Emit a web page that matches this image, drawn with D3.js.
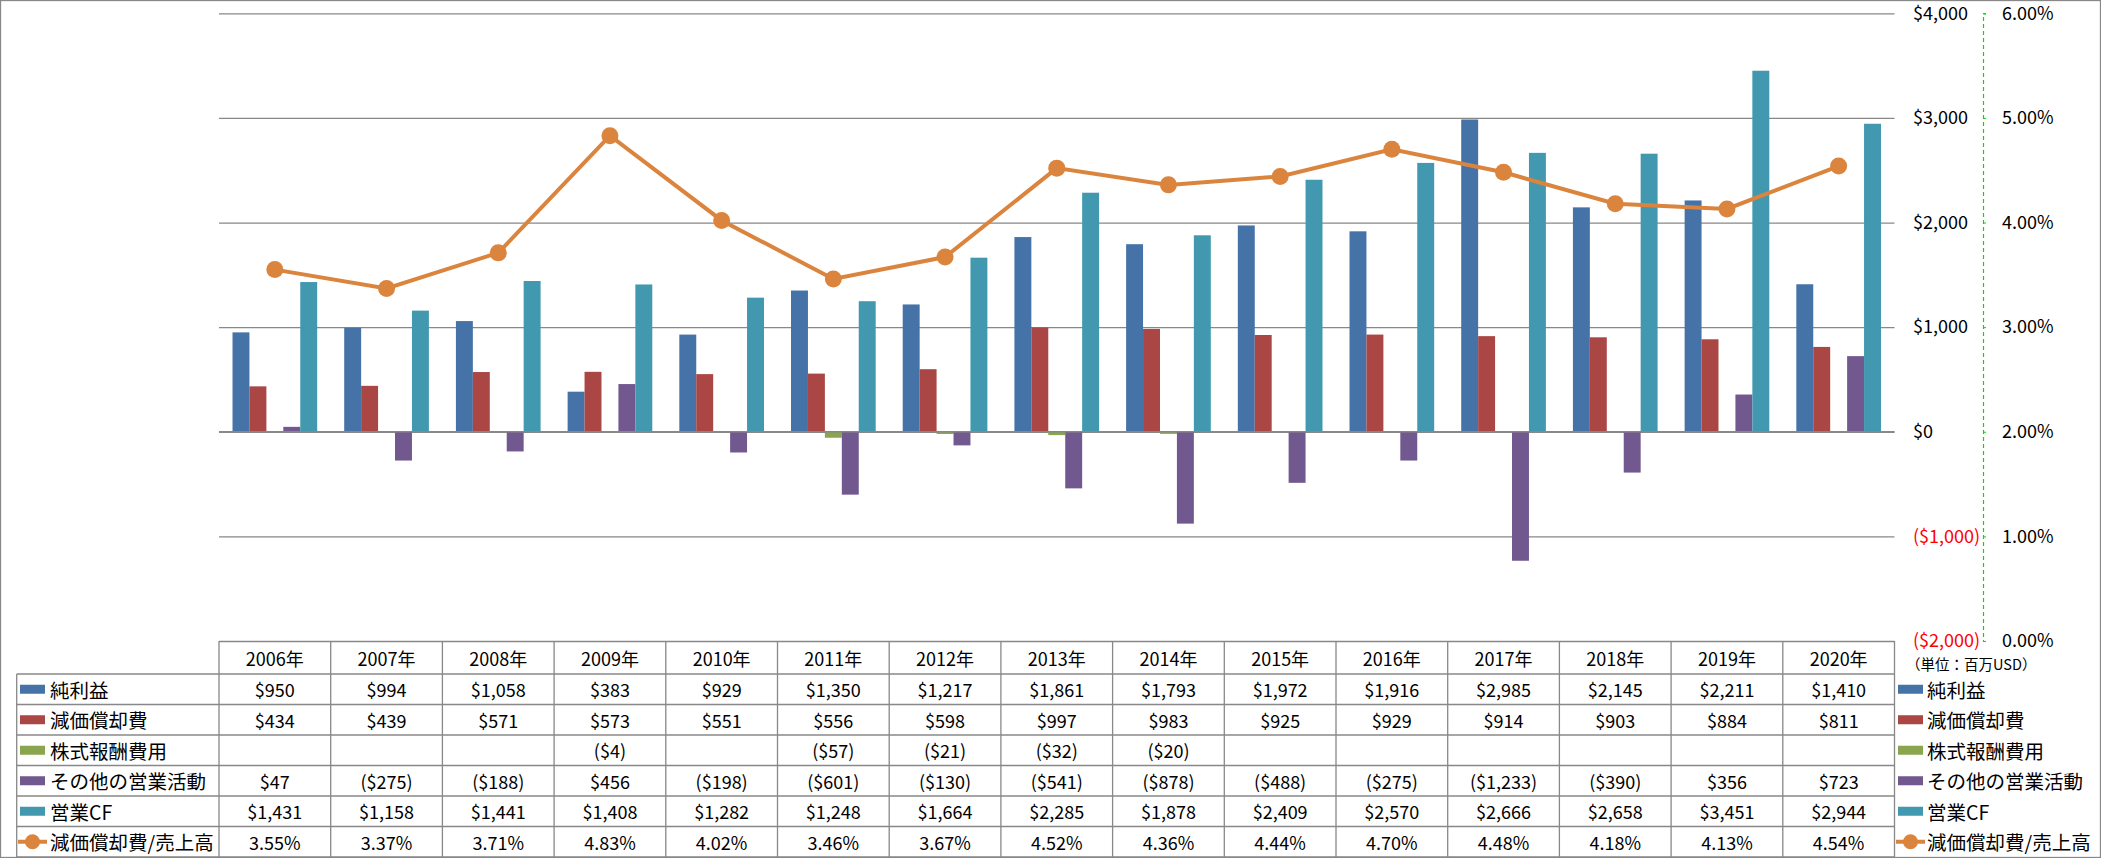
<!DOCTYPE html>
<html><head><meta charset="utf-8">
<script src="https://cdn.jsdelivr.net/npm/d3@7"></script>
<style>
html,body{margin:0;padding:0;background:#fff;}
text{font-family:"Noto Sans CJK JP","Open Sans",sans-serif;fill:#000;}
</style></head>
<body><svg id="c" width="2101" height="858"></svg>
<script>
const years = ["2006年","2007年","2008年","2009年","2010年","2011年","2012年","2013年","2014年","2015年","2016年","2017年","2018年","2019年","2020年"];
const seriesNames = ["純利益","減価償却費","株式報酬費用","その他の営業活動","営業CF"];
const netIncome = [950,994,1058,383,929,1350,1217,1861,1793,1972,1916,2985,2145,2211,1410];
const depreciation = [434,439,571,573,551,556,598,997,983,925,929,914,903,884,811];
const stockComp = [null,null,null,-4,null,-57,-21,-32,-20,null,null,null,null,null,null];
const otherOps = [47,-275,-188,456,-198,-601,-130,-541,-878,-488,-275,-1233,-390,356,723];
const operatingCF = [1431,1158,1441,1408,1282,1248,1664,2285,1878,2409,2570,2666,2658,3451,2944];
const lineName = "減価償却費/売上高";
const depRatio = [3.55,3.37,3.71,4.83,4.02,3.46,3.67,4.52,4.36,4.44,4.70,4.48,4.18,4.13,4.54];
const leftTicks = [-2000,-1000,0,1000,2000,3000,4000];
const rightTicks = [0,1,2,3,4,5,6];
const unitLabel = "（単位：百万USD）";

const seriesValues = [netIncome, depreciation, stockComp, otherOps, operatingCF];
const colors = ["#4572A7","#AA4643","#89A54E","#71588F","#4198AF"];
const lineColor = "#DB843D";
const gridColor = "#888888";

const svg = d3.select("#c");
const plotL = 219, plotR = 1894.5, plotT = 13.3, plotB = 641;

const x = d3.scaleBand().domain(years).range([plotL, plotR]).padding(0);
const bw = x.bandwidth();
const sub = d3.scaleBand().domain(seriesNames).range([bw*0.121, bw*0.879]).padding(0);
const y = d3.scaleLinear().domain([-2000,4000]).range([plotB, plotT]);
const y2 = d3.scaleLinear().domain([0,6]).range([plotB, plotT]);

// outer border
svg.append("rect").attr("x",0.5).attr("y",0.5).attr("width",2100).attr("height",857)
  .attr("fill","none").attr("stroke",gridColor).attr("stroke-width",1.3);

// gridlines
const grid = svg.append("g").attr("transform",`translate(${plotL},0)`)
  .call(d3.axisLeft(y).tickValues(leftTicks).tickSize(-(plotR-plotL)).tickFormat(""));
grid.select(".domain").remove();
grid.selectAll(".tick line").attr("stroke",gridColor).attr("stroke-width",1.3);

// bars
seriesNames.forEach((s,si)=>{
  const vals = seriesValues[si];
  svg.append("g").selectAll("rect").data(years.map((yr,i)=>({yr,v:vals[i]})).filter(d=>d.v!==null))
    .join("rect")
    .attr("x",d=>x(d.yr)+sub(s))
    .attr("width",sub.bandwidth())
    .attr("y",d=>y(Math.max(0,d.v)))
    .attr("height",d=>Math.abs(y(d.v)-y(0)))
    .attr("fill",colors[si]);
});
// redraw zero line on top
svg.append("line").attr("x1",plotL).attr("x2",plotR).attr("y1",y(0)).attr("y2",y(0))
  .attr("stroke",gridColor).attr("stroke-width",1.3);

// line
const pts = years.map((yr,i)=>({yr,v:depRatio[i]}));
svg.append("path").datum(pts)
  .attr("d",d3.line().x(d=>x(d.yr)+bw/2).y(d=>y2(d.v)))
  .attr("fill","none").attr("stroke",lineColor).attr("stroke-width",4);
svg.append("g").selectAll("circle").data(pts).join("circle")
  .attr("cx",d=>x(d.yr)+bw/2).attr("cy",d=>y2(d.v)).attr("r",8.5).attr("fill",lineColor);

// left value axis labels (placed right of plot)
const fmtMoney = v => v<0 ? "($"+d3.format(",")(-v)+")" : "$"+d3.format(",")(v);
const ax1 = svg.append("g").attr("transform",`translate(1895,0)`)
  .call(d3.axisRight(y).tickValues(leftTicks).tickSize(0).tickPadding(18).tickFormat(fmtMoney));
ax1.select(".domain").remove();
ax1.selectAll("text").attr("font-size",18).attr("font-family",'"Noto Sans CJK JP",sans-serif')
  .style("fill",d=>d<0?"#FF0000":"#000");

// secondary axis
const ax2 = svg.append("g").attr("transform",`translate(1983,0)`)
  .call(d3.axisRight(y2).tickValues(rightTicks).tickSize(3).tickSizeOuter(3).tickPadding(16).tickFormat(d=>d.toFixed(2)+"%"));
ax2.select(".domain").attr("stroke","#00DD00").attr("stroke-dasharray","4,3").attr("stroke-width",1.2);
ax2.selectAll(".tick line").attr("stroke","#00DD00");
ax2.selectAll("text").attr("font-size",18).attr("font-family",'"Noto Sans CJK JP",sans-serif').style("fill","#000");

// unit label
svg.append("text").attr("x",1906).attr("y",663).attr("dominant-baseline","central")
  .attr("font-size",14.5).text(unitLabel);

// data table
const rowTops = [641,674,704.5,735,765.5,796,826.5,857];
const tbl = svg.append("g");
const lineAttr = sel => sel.attr("stroke",gridColor).attr("stroke-width",1.3);
// horizontal lines
rowTops.forEach((ry,i)=>{
  if(i===0) return;
  tbl.append("line").attr("x1",16.7).attr("x2",plotR).attr("y1",ry).attr("y2",ry).call(lineAttr);
});
// vertical lines
tbl.append("line").attr("x1",16.7).attr("x2",16.7).attr("y1",674).attr("y2",857).call(lineAttr);
[...years.map(yr=>x(yr)), plotR].forEach(vx=>{
  tbl.append("line").attr("x1",vx).attr("x2",vx).attr("y1",641).attr("y2",857).call(lineAttr);
});
// headers
tbl.selectAll("text.h").data(years).join("text").attr("class","h")
  .attr("x",d=>x(d)+bw/2).attr("y",(rowTops[0]+rowTops[1])/2)
  .attr("text-anchor","middle").attr("dominant-baseline","central").attr("font-size",18).text(d=>d);

const rowLabels = [...seriesNames, lineName];
const rowData = [...seriesValues, depRatio];
rowLabels.forEach((lab,ri)=>{
  const cy = (rowTops[ri+1]+rowTops[ri+2])/2;
  const vals = rowData[ri];
  tbl.append("g").selectAll("text").data(years.map((yr,i)=>({yr,v:vals[i]})).filter(d=>d.v!==null))
    .join("text")
    .attr("x",d=>x(d.yr)+bw/2).attr("y",cy)
    .attr("text-anchor","middle").attr("dominant-baseline","central").attr("font-size",18)
    .text(d=> ri===5 ? d.v.toFixed(2)+"%" : fmtMoney(d.v));
  // legend key in table and at right
  [[20,50],[1898,1927]].forEach(([kx,tx])=>{
    if(ri<5){
      tbl.append("rect").attr("x",kx).attr("y",cy-4.5).attr("width",25).attr("height",9).attr("fill",colors[ri]);
    } else {
      tbl.append("line").attr("x1",kx-2).attr("x2",kx+27).attr("y1",cy).attr("y2",cy)
        .attr("stroke",lineColor).attr("stroke-width",4);
      tbl.append("circle").attr("cx",kx+12.5).attr("cy",cy).attr("r",7.5).attr("fill",lineColor);
    }
    tbl.append("text").attr("x",tx).attr("y",cy).attr("dominant-baseline","central")
      .attr("font-size",19.5).text(lab);
  });
});
</script></body></html>
